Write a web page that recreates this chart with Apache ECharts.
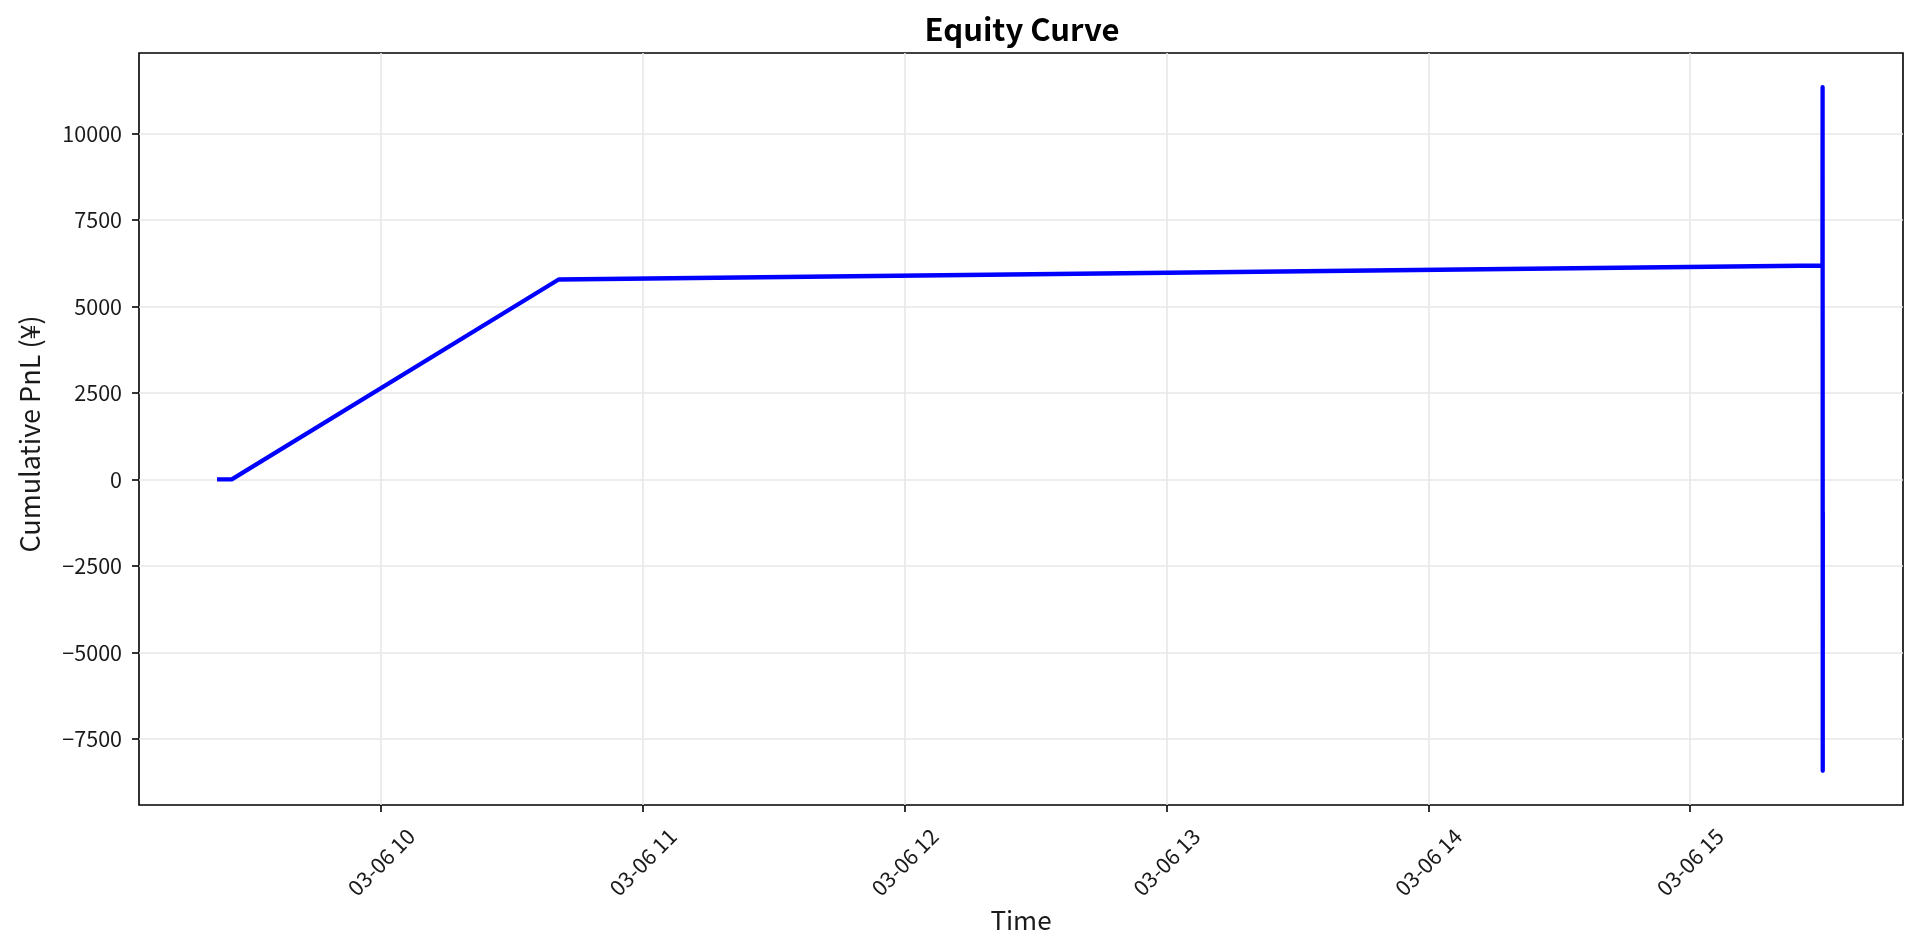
<!DOCTYPE html>
<html><head><meta charset="utf-8">
<script src="https://cdn.jsdelivr.net/npm/echarts@6/dist/echarts.min.js"></script>
<style>html,body{margin:0;padding:0;background:#fff}#c{width:1920px;height:951px}</style>
</head><body><div id="c"></div>
<script>
// ---- data ----
const tradeDate = [2025, 3, 6];
const times = ['09:22:52','09:25:45','10:40:40','15:30:20','15:30:21','15:30:22','15:30:23','15:30:24','15:30:25'];
const pnl = [0, 0, 5780, 6185, 9020, 11340, 3200, -8425, -1000];
const yTicks = [-7500, -5000, -2500, 0, 2500, 5000, 7500, 10000];
const xTickTimes = ['10:00:00','11:00:00','12:00:00','13:00:00','14:00:00','15:00:00'];

function toMs(t){
  const p = t.split(':').map(Number);
  return Date.UTC(tradeDate[0], tradeDate[1]-1, tradeDate[2], p[0], p[1], p[2]||0);
}
const pad = n => String(n).padStart(2,'0');
const xs = times.map(toMs);
const data = xs.map((x,i)=>[x, pnl[i]]);
const xTicks = xTickTimes.map(toMs);
const xmin0 = Math.min(...xs), xmax0 = Math.max(...xs);
const ymin0 = Math.min(...pnl), ymax0 = Math.max(...pnl);
const xm = (xmax0-xmin0)*0.05, ym = (ymax0-ymin0)*0.05;

const FONT = "'Noto Sans CJK JP', 'Noto Sans', sans-serif";
const TXT = '#1a1a1a';
const chart = echarts.init(document.getElementById('c'), null, {renderer:'canvas'});
chart.setOption({
  animation: false,
  backgroundColor: '#fff',
  title: {
    text: 'Equity Curve', left: 1017, top: 9, textAlign: 'center',
    textStyle: {fontFamily: FONT, fontWeight: 'bold', fontSize: 31, color: '#000'}
  },
  grid: {left: 139, right: 17, top: 53, bottom: 146, show: true, borderColor: '#000', borderWidth: 1.6, backgroundColor: 'transparent'},
  xAxis: {
    type: 'value', min: xmin0 - xm, max: xmax0 + xm,
    name: 'Time', nameLocation: 'middle', nameGap: 102,
    nameTextStyle: {fontFamily: FONT, fontSize: 26, color: TXT},
    axisLine: {show: false, onZero: false},
    axisTick: {show: true, inside: false, length: 7, customValues: xTicks, lineStyle: {color: '#000', width: 1.6}},
    axisLabel: {
      customValues: xTicks, rotate: 45, align: 'center', verticalAlign: 'middle', margin: 57,
      fontFamily: FONT, fontSize: 21.5, color: TXT,
      formatter: v => { const d = new Date(v); return pad(d.getUTCMonth()+1)+'-'+pad(d.getUTCDate())+' '+pad(d.getUTCHours()); }
    },
    splitLine: {show: true, lineStyle: {color: '#e7e7e7', width: 1.6}}
  },
  yAxis: {
    type: 'value', min: ymin0 - ym, max: ymax0 + ym,
    name: 'Cumulative PnL (¥)', nameLocation: 'middle', nameGap: 96, nameRotate: 90,
    nameTextStyle: {fontFamily: FONT, fontSize: 27, color: TXT, padding: [0, 10, 0, 0]},
    axisLine: {show: false, onZero: false},
    axisTick: {show: true, inside: false, length: 7, customValues: yTicks, lineStyle: {color: '#000', width: 1.6}},
    axisLabel: {
      customValues: yTicks, margin: 17, fontFamily: FONT, fontSize: 21.5, color: TXT,
      formatter: v => (v < 0 ? '\u2212' + Math.abs(v) : String(v))
    },
    splitLine: {show: true, lineStyle: {color: '#e7e7e7', width: 1.6}}
  },
  series: [{
    type: 'line', data: data, showSymbol: false, symbol: 'none',
    lineStyle: {color: '#0000ff', width: 4.3, cap: 'square', join: 'round'},
    z: 5
  }]
});
</script></body></html>
